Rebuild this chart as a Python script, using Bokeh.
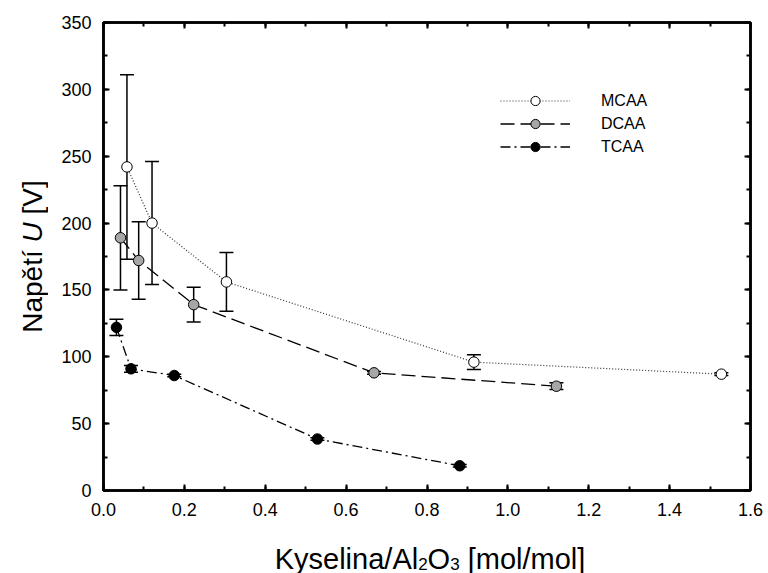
import math
from bokeh.plotting import figure
from bokeh.layouts import row, column
from bokeh.models import (ColumnDataSource, Whisker, TeeHead, Legend, LegendItem,
                          LinearAxis, SingleIntervalTicker, NumeralTickFormatter, Range1d)
from bokeh.core.properties import value
from bokeh.embed import file_html
from bokeh.resources import INLINE

# ---- data ----
series_names = ["MCAA", "DCAA", "TCAA"]
mcaa_x = [0.058, 0.12, 0.304, 0.916, 1.528]
mcaa_y = [242, 200, 156, 96, 87]
mcaa_err = [69, 46, 22, 5.5, 1]

dcaa_x = [0.042, 0.087, 0.223, 0.669, 1.12]
dcaa_y = [189, 172, 139, 88, 78]
dcaa_err = [39, 29, 13, 1, 2.5]

tcaa_x = [0.032, 0.068, 0.175, 0.529, 0.881]
tcaa_y = [122, 91, 86, 38.5, 18.5]
tcaa_err = [6, 2.5, 1, 1, 1]

x_title_parts = ["Kyselina/Al", "2", "O", "3", "[mol/mol]"]
y_title_parts = ["Napětí", "U", "[V]"]

FONT = "Liberation Sans"

# ---- layout sizes ----
TOTAL_W, TOTAL_H = 768, 573
YT_W = 48          # strip holding the y title
XT_H = 48          # strip holding the x title
MAIN_W = TOTAL_W - YT_W
MAIN_H = TOTAL_H - XT_H
B_LEFT, B_RIGHT = 55, 18
B_TOP = 22
B_BOTTOM = MAIN_H - B_TOP - 468
FRAME_LEFT = YT_W + B_LEFT   # frame's left edge on the page

p = figure(width=MAIN_W, height=MAIN_H, output_backend="svg", toolbar_location=None,
           title=None, x_range=Range1d(0, 1.6), y_range=Range1d(0, 350),
           min_border_left=B_LEFT, min_border_right=B_RIGHT,
           min_border_top=B_TOP, min_border_bottom=B_BOTTOM)
p.grid.visible = False
p.outline_line_color = "black"
p.outline_line_width = 2.5

def style_axis(ax, show_labels=True):
    ax.axis_line_width = 2.5
    ax.axis_line_color = "black"
    ax.major_tick_in = 6
    ax.major_tick_out = 0
    ax.minor_tick_in = 4
    ax.minor_tick_out = 0
    ax.major_tick_line_width = 2
    ax.minor_tick_line_width = 2
    if show_labels:
        ax.major_label_text_font = FONT
        ax.major_label_text_font_size = "18px"
        ax.major_label_text_color = "black"
        ax.major_label_standoff = 12
    else:
        ax.major_label_text_font_size = "1px"
        ax.major_label_text_color = None
        ax.major_label_standoff = 0

p.xaxis.ticker = SingleIntervalTicker(interval=0.2, num_minor_ticks=2)
p.xaxis.formatter = NumeralTickFormatter(format="0.0")
p.yaxis.ticker = SingleIntervalTicker(interval=50, num_minor_ticks=2)
p.yaxis.formatter = NumeralTickFormatter(format="0")
style_axis(p.xaxis[0])
style_axis(p.yaxis[0])

top_ax = LinearAxis(ticker=SingleIntervalTicker(interval=0.2, num_minor_ticks=2))
right_ax = LinearAxis(ticker=SingleIntervalTicker(interval=50, num_minor_ticks=2))
style_axis(top_ax, False)
style_axis(right_ax, False)
p.add_layout(top_ax, "above")
p.add_layout(right_ax, "right")

specs = [
    (series_names[0], mcaa_x, mcaa_y, mcaa_err, "white", "1 2", 1.2, "#333333"),
    (series_names[1], dcaa_x, dcaa_y, dcaa_err, "#a6a6a6", "14 6", 1.3, "black"),
    (series_names[2], tcaa_x, tcaa_y, tcaa_err, "black", "10 4 2 4", 1.3, "black"),
]

items = []
for name, xs, ys, es, fill, dash, lw, lc in specs:
    src = ColumnDataSource(dict(x=xs, y=ys,
                                lo=[y - e for y, e in zip(ys, es)],
                                hi=[y + e for y, e in zip(ys, es)]))
    ln = p.line("x", "y", source=src, line_color=lc, line_width=lw, line_dash=dash)
    w = Whisker(source=src, base="x", upper="hi", lower="lo", dimension="height",
                line_color="black", line_width=1.5,
                upper_head=TeeHead(size=14, line_width=1.5, line_color="black"),
                lower_head=TeeHead(size=14, line_width=1.5, line_color="black"))
    p.add_layout(w)
    sc = p.scatter("x", "y", source=src, size=10.5, fill_color=fill,
                   line_color="black", line_width=1)
    items.append(LegendItem(label=name, renderers=[ln, sc]))

legend = Legend(items=items, location=(397, 332), padding=0, margin=0, spacing=0,
                glyph_width=70, glyph_height=23, label_height=23, label_standoff=31,
                border_line_color=None, background_fill_alpha=0,
                label_text_font=FONT, label_text_font_size="16px", label_text_color="black")
p.add_layout(legend, "center")


def strip(w, h, bl=0, br=0):
    f = figure(width=w, height=h, output_backend="svg", toolbar_location=None, title=None,
               x_range=Range1d(0, w - bl - br), y_range=Range1d(0, h),
               x_axis_type=None, y_axis_type=None, min_border=0,
               min_border_left=bl, min_border_right=br, min_border_top=0, min_border_bottom=0)
    f.grid.visible = False
    f.outline_line_color = None
    return f

# ---- y title strip: "Napětí U [V]" with italic U ----
yt = strip(YT_W, TOTAL_H)
yf = 28
w_n = 3.224 * yf     # "Napětí" + space (Arial metrics)
w_u = 0.722 * yf
w_s = 0.278 * yf
w_v = 1.223 * yf
y_center = TOTAL_H - 256
y0 = y_center - (w_n + w_u + w_s + w_v) / 2
ybase = 31.5
y_pos = [y0, y0 + w_n, y0 + w_n + w_u + w_s]
y_styles = ["normal", "italic", "normal"]
for t, yy, st in zip(y_title_parts, y_pos, y_styles):
    yt.text(x=[ybase], y=[yy], text=[t], angle=math.pi / 2,
            text_font=value(FONT), text_font_size=f"{yf}px", text_font_style=st,
            text_align="left", text_baseline="alphabetic", text_color="black")

# ---- x title strip: "Kyselina/Al2O3 [mol/mol]" with subscripts ----
# same side borders as the main plot, so its frame lines up with the main frame
xt = strip(MAIN_W, XT_H, B_LEFT, B_RIGHT)
xf = 29
sf = 17
w_main1 = 4.946 * xf
w_sub = 0.556 * sf
w_O = 0.778 * xf
w_sp = 0.278 * xf
w_end = 4.056 * xf
total = w_main1 + 2 * w_sub + w_O + w_sp + w_end
x0 = (429.5 - FRAME_LEFT) - total / 2
base = 15
sub_base = 10
x_pos = [x0, x0 + w_main1, x0 + w_main1 + w_sub, x0 + w_main1 + w_sub + w_O,
         x0 + w_main1 + 2 * w_sub + w_O + w_sp]
x_base = [base, sub_base, base, sub_base, base]
x_size = [xf, sf, xf, sf, xf]
for t, xx, yy, fs in zip(x_title_parts, x_pos, x_base, x_size):
    xt.text(x=[xx], y=[yy], text=[t],
            text_font=value(FONT), text_font_size=f"{fs}px",
            text_align="left", text_baseline="alphabetic", text_color="black")

layout = row(yt, column(p, xt, spacing=0), spacing=0)
open("out.html", "w").write(file_html(layout, INLINE))
